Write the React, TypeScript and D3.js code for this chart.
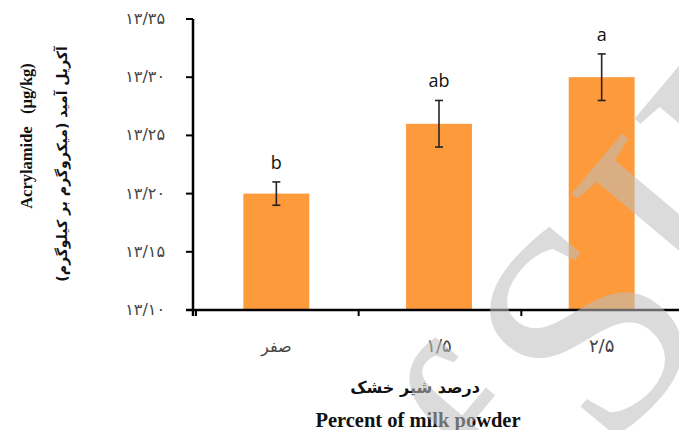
import React from "react";
import * as d3 from "d3";

const categories = ["صفر", "۱/۵", "۲/۵"];
const values = [13.2, 13.26, 13.3];
const errors = [0.01, 0.02, 0.02];
const letters = ["b", "ab", "a"];
const yTicks = [13.1, 13.15, 13.2, 13.25, 13.3, 13.35];
const yTickLabels = ["۱۳/۱۰", "۱۳/۱۵", "۱۳/۲۰", "۱۳/۲۵", "۱۳/۳۰", "۱۳/۳۵"];

const W = 679;
const H = 430;

export default function App() {
  const y = d3.scaleLinear().domain([13.1, 13.35]).range([310, 19]);
  const x = d3.scaleBand<string>().domain(categories).range([195, 683]).padding(0);
  const bw = x.bandwidth() * 0.405;
  const axisX = 193;
  const baseY = y(13.1);
  const persian = "'DejaVu Sans', sans-serif";
  const wm = { fontFamily: "'Liberation Serif', serif", fontSize: 300, fill: "#bfbfbf", opacity: 0.55 };
  return (
    <svg width={W} height={H} style={{ position: "absolute", left: 0, top: 0, background: "#fff" }}>
      {/* bars */}
      {categories.map((c, i) => {
        const cx = (x(c) as number) + x.bandwidth() / 2;
        return (
          <rect key={c} x={cx - bw / 2} y={y(values[i])} width={bw} height={baseY - y(values[i])} fill="#FD9A3B" />
        );
      })}
      {/* error bars */}
      {categories.map((c, i) => {
        const cx = (x(c) as number) + x.bandwidth() / 2;
        const t = y(values[i] + errors[i]);
        const b = y(values[i] - errors[i]);
        return (
          <g key={c} stroke="#2a2222" strokeWidth={1.6}>
            <line x1={cx} x2={cx} y1={t} y2={b} />
            <line x1={cx - 4} x2={cx + 4} y1={t} y2={t} />
            <line x1={cx - 4} x2={cx + 4} y1={b} y2={b} />
          </g>
        );
      })}
      {/* letters */}
      {categories.map((c, i) => {
        const cx = (x(c) as number) + x.bandwidth() / 2;
        const t = y(values[i] + errors[i]);
        return (
          <text key={c} x={cx} y={t - 13} textAnchor="middle" fontFamily="'Open Sans', sans-serif" fontSize={18} fill="#111">
            {letters[i]}
          </text>
        );
      })}
      {/* y axis */}
      <line x1={axisX} x2={axisX} y1={y(13.35)} y2={baseY + 6} stroke="#000" strokeWidth={2.5} />
      {yTicks.map((v, i) => (
        <g key={v}>
          <line x1={axisX - 7} x2={axisX} y1={y(v)} y2={y(v)} stroke="#000" strokeWidth={2} />
          <text x={165} y={y(v) + 5} textAnchor="end" fontFamily={persian} fontSize={16} fill="#444" direction="ltr">
            {yTickLabels[i]}
          </text>
        </g>
      ))}
      {/* x axis */}
      <line x1={axisX - 7} x2={683} y1={baseY} y2={baseY} stroke="#000" strokeWidth={2.5} />
      {categories.map((c) => (
        <line key={c} x1={(x(c) as number) + 1} x2={(x(c) as number) + 1} y1={baseY} y2={baseY + 6} stroke="#000" strokeWidth={2} />
      ))}
      {categories.map((c, i) => (
        <text key={c} x={(x(c) as number) + x.bandwidth() / 2} y={352} textAnchor="middle" fontFamily={persian} fontSize={i === 0 ? 16 : 18} fill="#444">
          {c}
        </text>
      ))}
      {/* x titles */}
      <text x={415} y={393} textAnchor="middle" fontFamily={persian} fontWeight="bold" fontSize={16} fill="#111">
        درصد شیر خشک
      </text>
      <text x={418} y={427} textAnchor="middle" fontFamily="'Liberation Serif', serif" fontWeight="bold" fontSize={20.5} fill="#111">
        Percent of milk powder
      </text>
      {/* y titles */}
      <text transform="translate(32,136) rotate(-90)" textAnchor="middle" fontFamily="'Liberation Serif', serif" fontWeight="bold" fontSize={16.5} fill="#111" xmlSpace="preserve">
        Acrylamide   (µg/kg)
      </text>
      <text transform="translate(67,164) rotate(-90)" textAnchor="middle" fontFamily={persian} fontWeight="bold" fontSize={14} fill="#111">
        آکریل آمید (میکروگرم بر کیلوگرم)
      </text>
      {/* watermark */}
      <g transform="translate(608,456) rotate(-50)">
        <text x={0} y={0} textAnchor="start" {...wm}>SID</text>
        <text x={-20} y={0} textAnchor="end" {...wm}>of</text>
      </g>
    </svg>
  );
}
